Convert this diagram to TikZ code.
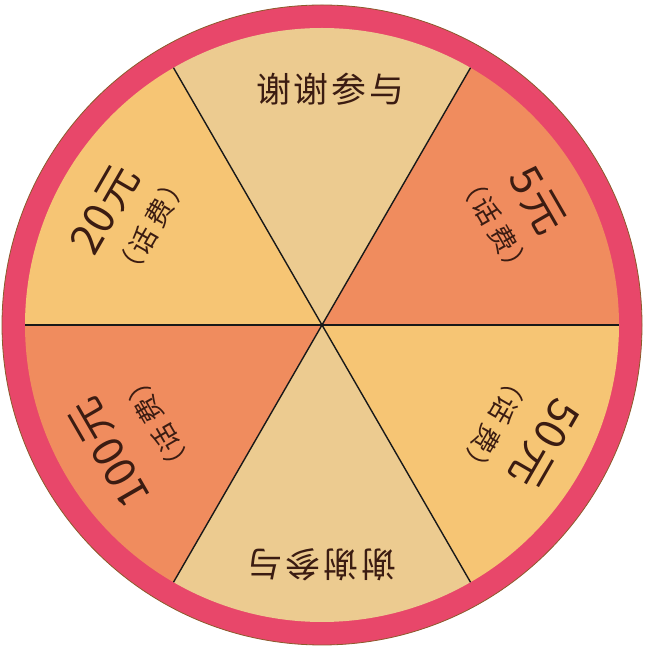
\documentclass[tikz,border=0pt]{standalone}
\usepackage{fontspec}
\setmainfont{Noto Sans CJK SC}
\definecolor{ringred}{HTML}{E8476A}
\definecolor{ringedge}{HTML}{8B5A2B}
\definecolor{tan}{HTML}{ECCB90}
\definecolor{sunny}{HTML}{F6C574}
\definecolor{salmon}{HTML}{F08C5E}
\definecolor{ink}{HTML}{3B1C12}
\newcommand{\fee}{（\kern2bp 话\kern6bp 费\kern2bp ）}
\begin{document}
\begin{tikzpicture}[x=1bp,y=1bp,
  mainlbl/.style={text=ink,font=\fontsize{43}{45}\selectfont,inner sep=0pt},
  sublbl/.style={text=ink,font=\fontsize{27}{29}\selectfont,inner sep=0pt},
  thanks/.style={text=ink,font=\fontsize{35}{37}\selectfont,inner sep=0pt},
  divider/.style={draw=black!90,line width=1.4bp}]
\useasboundingbox (0,0) rectangle (647,647);
\coordinate (c) at (322,322);
% ring
\fill[ringred,draw=ringedge,line width=0.8bp] (c) circle[radius=320];
% sectors
\begin{scope}[shift={(c)}]
\fill[tan] (0,0) -- (60:297) arc (60:120:297) -- cycle;
\fill[salmon] (0,0) -- (0:297) arc (0:60:297) -- cycle;
\fill[sunny] (0,0) -- (-60:297) arc (-60:0:297) -- cycle;
\fill[tan] (0,0) -- (-120:297) arc (-120:-60:297) -- cycle;
\fill[salmon] (0,0) -- (180:297) arc (180:240:297) -- cycle;
\fill[sunny] (0,0) -- (120:297) arc (120:180:297) -- cycle;
\coordinate (p0) at (0:297);
\coordinate (p1) at (60:297);
\coordinate (p2) at (120:297);
\coordinate (p3) at (180:297);
\coordinate (p4) at (240:297);
\coordinate (p5) at (300:297);
\end{scope}
\draw[divider] (p0) -- (p3);
\draw[divider] (p1) -- (p4);
\draw[divider] (p2) -- (p5);
% labels
\begin{scope}[shift={(c)}]
\node[thanks] (t1) at (88:236) {谢\kern3bp 谢\kern3bp 参\kern3bp 与};
\node[thanks,rotate=180] (t2) at (-90:240) {谢\kern3bp 谢\kern3bp 参\kern3bp 与};
\node[mainlbl,rotate=-60] (m5) at (30:249) {5\kern3bp 元};
\node[sublbl,rotate=-60] (s5) at (30:200) {\fee};
\node[mainlbl,rotate=60] (m20) at (152:246) {20\kern3bp 元};
\node[sublbl,rotate=60] (s20) at (150:197) {\fee};
\node[mainlbl,rotate=120] (m100) at (211:248) {100\kern3bp 元};
\node[sublbl,rotate=120] (s100) at (211:192) {\fee};
\node[mainlbl,rotate=-120] (m50) at (-28:252) {50\kern3bp 元};
\node[sublbl,rotate=-120] (s50) at (-30:200) {\fee};
\end{scope}
\end{tikzpicture}
\end{document}
